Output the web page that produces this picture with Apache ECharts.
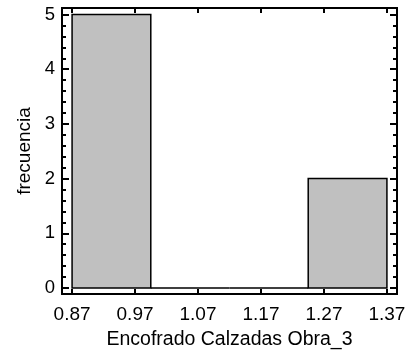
<!DOCTYPE html>
<html><head><meta charset="utf-8">
<script src="https://cdn.jsdelivr.net/npm/echarts@6/dist/echarts.min.js"></script>
<style>html,body{margin:0;padding:0;background:#fff}#c{width:409px;height:356px}</style>
</head><body><div id="c"></div>
<script>
var binEdges = [0.87, 0.995, 1.12, 1.245, 1.37];
var counts = [5, 0, 0, 2];
var xTicks = [0.87, 0.97, 1.07, 1.17, 1.27, 1.37];
var yTicks = [0, 1, 2, 3, 4, 5];
var yMinor = [0.2,0.4,0.6,0.8,1.2,1.4,1.6,1.8,2.2,2.4,2.6,2.8,3.2,3.4,3.6,3.8,4.2,4.4,4.6,4.8];
var xTitle = 'Encofrado Calzadas Obra_3';
var yTitle = 'frecuencia';

var data = counts.map(function(c,i){ return [binEdges[i], binEdges[i+1], c]; });
var font = 'Liberation Sans, Arial, sans-serif';
var line = {show:true, onZero:false, lineStyle:{color:'#000', width:2}};
function yAx(pos, ticks, len, labels, name){
  return {type:'value', position:pos, min:-0.11, max:5.12, splitLine:{show:false},
    axisLine:line,
    axisTick:{show:true, inside:true, length:len, customValues:ticks, lineStyle:{color:'#000', width:2}},
    axisLabel:{show:labels, customValues:ticks, color:'#000', fontSize:18.5, fontFamily:font, margin:7},
    name:name||'', nameLocation:'middle', nameGap:27, nameTextStyle:{color:'#000', fontSize:19, fontFamily:font}};
}
var chart = echarts.init(document.getElementById('c'));
chart.setOption({
  animation:false,
  grid:{left:62, right:12, top:8, bottom:62},
  xAxis:[
    {type:'value', position:'bottom', min:0.854, max:1.386, splitLine:{show:false}, axisLine:line,
     axisTick:{show:true, inside:true, length:5, customValues:xTicks, lineStyle:{color:'#000', width:2}},
     axisLabel:{customValues:xTicks, color:'#000', fontSize:19, fontFamily:font, margin:11, formatter:function(v){return v.toFixed(2);}},
     name:xTitle, nameLocation:'middle', nameGap:36, nameTextStyle:{color:'#000', fontSize:19.5, fontFamily:font}},
    {type:'value', position:'top', min:0.854, max:1.386, splitLine:{show:false}, axisLine:line,
     axisTick:{show:true, inside:true, length:5, customValues:xTicks, lineStyle:{color:'#000', width:2}},
     axisLabel:{show:false}}
  ],
  yAxis:[
    yAx('left', yTicks, 7, true, yTitle),
    yAx('left', yMinor, 4, false),
    yAx('right', yTicks, 7, false),
    yAx('right', yMinor, 4, false)
  ],
  series:[{
    type:'custom', xAxisIndex:0, yAxisIndex:0, data:data,
    encode:{x:[0,1], y:2},
    renderItem:function(params, api){
      var p0 = api.coord([api.value(0), api.value(2)]);
      var p1 = api.coord([api.value(1), 0]);
      return {type:'rect', shape:{x:p0[0], y:p0[1], width:p1[0]-p0[0], height:p1[1]-p0[1]},
        style:{fill:'#c0c0c0', stroke:'#000', lineWidth:1.5}};
    }
  }]
});
</script></body></html>
